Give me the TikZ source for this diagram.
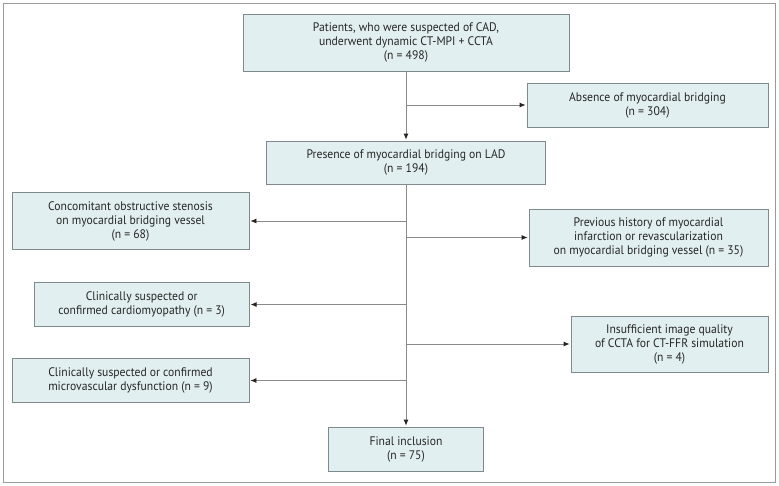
\documentclass[tikz,border=0pt]{standalone}
\usepackage{fontspec}
\setmainfont[FakeStretch=0.94]{PT Sans}
\usetikzlibrary{arrows.meta}
\definecolor{boxfill}{HTML}{E2EFF0}
\definecolor{boxline}{HTML}{7E8A8C}
\definecolor{linecol}{HTML}{8A8A8A}
\definecolor{headcol}{HTML}{2A2222}
\definecolor{framecol}{HTML}{9A9A9A}
\begin{document}
\begin{tikzpicture}[x=1pt,y=-1pt,
  flowbox/.style={draw=boxline,line width=0.8pt,fill=boxfill,rectangle,align=center,
    inner sep=0pt,font=\fontsize{12.4}{14}\selectfont,text=black!85},
  arr/.style={draw=linecol,line width=0.8pt,-{Latex[length=6pt,width=5pt,color=headcol]},shorten >=1pt}]
\useasboundingbox (0,0) rectangle (779,485);
\draw[framecol,line width=1pt] (3,3) rectangle (775,482);

\node[flowbox,minimum width=326pt,minimum height=57pt] (top) at (406,42.6)
  {Patients, who were suspected of CAD,\\underwent dynamic CT-MPI + CCTA\\(n = 498)};
\node[flowbox,minimum width=241pt,minimum height=44pt] (absence) at (647.5,105)
  {Absence of myocardial bridging\\(n = 304)};
\node[flowbox,minimum width=279pt,minimum height=43pt] (presence) at (406,162.5)
  {Presence of myocardial bridging on LAD\\(n = 194)};
\node[flowbox,minimum width=237pt,minimum height=57pt] (conc) at (130.5,221)
  {Concomitant obstructive stenosis\\on myocardial bridging vessel\\(n = 68)};
\node[flowbox,minimum width=239pt,minimum height=57pt] (prev) at (648.5,237.5)
  {Previous history of myocardial\\infarction or revascularization\\on myocardial bridging vessel (n = 35)};
\node[flowbox,minimum width=215pt,minimum height=44pt] (cardio) at (141.7,304.5)
  {Clinically suspected or\\confirmed cardiomyopathy (n = 3)};
\node[flowbox,minimum width=197pt,minimum height=56pt] (insuff) at (669.5,344)
  {Insufficient image quality\\of CCTA for CT-FFR simulation\\(n = 4)};
\node[flowbox,minimum width=237pt,minimum height=44pt] (micro) at (130.5,380.5)
  {Clinically suspected or confirmed\\microvascular dysfunction (n = 9)};
\node[flowbox,minimum width=155pt,minimum height=44pt] (final) at (406,449)
  {Final inclusion\\(n = 75)};

\draw[arr] (top.south) -- (presence.north);
\draw[arr] (top.south |- absence.west) -- (absence.west);
\draw[arr] (presence.south) -- (final.north);
\draw[arr] (presence.south |- conc.east) -- (conc.east);
\draw[arr] (presence.south |- prev.west) -- (prev.west);
\draw[arr] (presence.south |- cardio.east) -- (cardio.east);
\draw[arr] (presence.south |- insuff.west) -- (insuff.west);
\draw[arr] (presence.south |- micro.east) -- (micro.east);
\end{tikzpicture}
\end{document}
